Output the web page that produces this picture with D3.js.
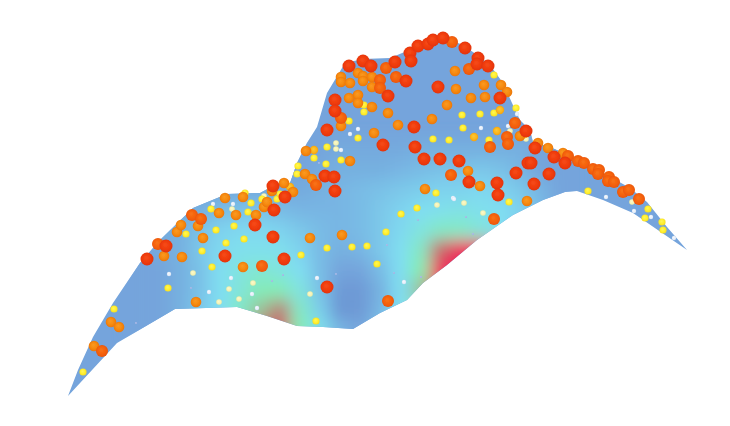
<!DOCTYPE html>
<html>
<head>
<meta charset="utf-8">
<script src="https://cdn.jsdelivr.net/npm/d3@7"></script>
<style>
	html, body { margin: 0; padding: 0; background: #fff; }
	svg { display: block; }
</style>
</head>
<body>
<div id="chart"></div>
<script>

// surface silhouette
let surfaceOutline = [
	[68,396],[78,370],[93,337],[113,303],[140,263],[160,240],[193,208],[227,194],[260,193],[273,186],
	[290,183],[297,163],[307,143],[317,127],[327,93],[345,63],[363,59],[390,58],[407,51],[423,42],
	[443,37],[463,45],[480,57],[490,65],[503,83],[512,103],[520,120],[530,130],[533,142],[550,147],
	[577,159],[607,175],[630,188],[647,202],[667,227],[687,250],[633,213],[603,200],[577,191],[565,192],
	[543,200],[513,215],[510,217],[477,240],[447,265],[423,283],[407,300],[380,313],[353,329],[323,327],
	[297,326],[267,316],[237,307],[175,309],[117,343]
];

// height colouring of the surface: 0 blue, 1 cyan, 2 green, 3 crimson
let heatColumns = [140,160,180,200,220,240,260,280,300,320,340,360,380,400,420,440,460,480,500,520,540,560];
let heatRows = [150,170,190,210,230,250,270,290,310,330];
let heatValues = [
	[0,0,0,0,0,0,0,0,0,0,.1,.1,.1,.1,.2,.2,.2,.2,.2,.2,0,0],
	[0,0,0,0,0,0,0,0,0,.1,.2,.2,.2,.3,.4,.5,.5,.6,.5,.3,0,0],
	[0,0,0,0,0,.1,.1,.1,.1,.2,.3,.4,.5,.6,.7,.8,.8,.9,.8,.6,.3,0],
	[0,0,.1,.2,.4,.5,.5,.4,.3,.3,.3,.4,.6,.8,1,1.1,1.2,1.1,1,.8,.4,0],
	[0,.1,.2,.5,.8,.9,.9,.8,.6,.4,.3,.4,.6,.9,1.3,1.7,1.7,1.4,1,.7,0,0],
	[0,.1,.2,.6,.9,1.1,1.1,1.1,.8,.4,.2,.3,.6,1,1.7,2.6,3.4,3.4,2.2,.6,0,0],
	[0,0,.2,.5,1,1.3,1.5,1.3,1,.4,0,0,.4,1,2,3.2,3.8,3.6,2.2,0,0,0],
	[0,0,.2,.5,1,1.4,1.9,1.9,1.3,.5,-.3,-.3,.2,1,2.2,3.2,3.4,3,1,0,0,0],
	[0,0,.2,.6,1,1.7,2.2,2.5,1.7,.7,-.4,-.3,.3,1,2,2.5,2,1,0,0,0,0],
	[0,0,.3,.7,1,1.7,2.6,2.8,2,1.1,.3,0,.5,1,1.5,1.5,1,0,0,0,0,0]
];

// spheres by class, smallest to largest
let tinyPoints = [
	[136,323],[191,288],[272,281],[283,275],[319,163],[466,217],[418,220],[387,245],[473,234],[336,274],[421,277],[394,273]
];
let whitePoints = [
	[169,274],[209,292],[231,278],[252,294],[257,308],[213,204],[233,204],[358,129],[350,134],[481,128],
	[508,126],[517,114],[341,150],[453,198],[454,199],[606,197],[634,211],[651,217],[674,238],[317,278],[404,282]
];
let palePoints = [
	[193,273],[229,289],[219,302],[239,299],[253,283],[232,209],[264,196],[336,143],[336,149],[510,131],
	[526,139],[437,205],[464,203],[483,213],[632,202],[310,294]
];
let yellowPoints = [
	[83,372],[114,309],[186,234],[216,230],[202,251],[226,243],[212,267],[168,288],[244,239],[234,226],
	[211,209],[248,212],[251,203],[245,193],[262,199],[277,199],[280,194],[364,105],[364,112],[349,121],
	[358,138],[462,115],[480,114],[494,113],[516,108],[494,75],[463,128],[489,140],[449,140],[433,139],
	[327,147],[314,158],[341,160],[326,164],[298,166],[297,174],[436,193],[509,202],[524,135],[588,191],
	[648,209],[645,218],[662,222],[663,230],[417,208],[401,214],[386,232],[327,248],[352,247],[367,246],
	[301,255],[377,264],[316,321]
];
let amberPoints = [
	[500,110],[314,150],[474,137],[497,131],[290,187]
];
let orangePoints = [
	[94,346],[111,322],[119,327],[164,256],[182,257],[177,232],[181,225],[198,226],[203,238],[196,302],
	[243,267],[236,215],[219,213],[256,215],[264,207],[267,202],[225,198],[243,197],[272,191],[284,183],
	[293,192],[455,71],[341,77],[341,82],[350,83],[358,73],[363,76],[363,81],[372,77],[372,87],[501,85],
	[507,92],[456,89],[484,85],[485,97],[471,98],[358,95],[349,98],[358,103],[372,107],[388,113],[447,105],
	[432,119],[341,126],[374,133],[398,125],[520,136],[306,151],[350,161],[305,174],[312,179],[468,171],
	[480,186],[425,189],[527,201],[538,143],[548,148],[563,153],[310,238],[342,235]
];
let deepOrangePoints = [
	[102,351],[158,244],[192,215],[201,219],[262,266],[386,68],[469,69],[380,80],[380,88],[396,77],
	[452,42],[341,118],[515,123],[507,137],[508,144],[490,147],[316,185],[451,175],[494,219],[568,156],
	[578,161],[584,163],[593,169],[599,170],[598,174],[609,177],[608,181],[614,182],[623,192],[629,190],
	[639,199],[388,301]
];
let redPoints = [
	[147,259],[166,246],[225,256],[284,259],[273,237],[255,225],[274,210],[285,197],[273,186],[349,66],
	[363,61],[371,66],[395,62],[410,53],[411,61],[418,46],[428,44],[433,40],[443,38],[465,48],[478,58],
	[477,64],[488,66],[406,81],[438,87],[500,98],[388,96],[335,100],[335,111],[327,130],[414,127],[526,131],
	[383,145],[415,147],[325,176],[334,177],[335,191],[424,159],[440,159],[459,161],[469,182],[497,183],
	[516,173],[528,163],[498,195],[535,148],[554,157],[565,163],[531,163],[549,174],[534,184],[327,287]
];

let pointClasses = [
	{ name: "tiny",       points: tinyPoints,       size: 1.1, light: "#b8c6ec", mid: "#a8b8e6", dark: "#98aadc" },
	{ name: "white",      points: whitePoints,      size: 2.2, light: "#f6f8fc", mid: "#e8f0fa", dark: "#d2e0f4" },
	{ name: "pale",       points: palePoints,       size: 2.8, light: "#fbf8cc", mid: "#f6f4b8", dark: "#e8e8a4" },
	{ name: "yellow",     points: yellowPoints,     size: 3.6, light: "#fff65c", mid: "#fff030", dark: "#f6d81e" },
	{ name: "amber",      points: amberPoints,      size: 4.2, light: "#fdc838", mid: "#fbb81c", dark: "#f09c12" },
	{ name: "orange",     points: orangePoints,     size: 5.3, light: "#fa9a22", mid: "#f68a10", dark: "#e87208" },
	{ name: "deepOrange", points: deepOrangePoints, size: 6,   light: "#f8741a", mid: "#f5620a", dark: "#e95206" },
	{ name: "red",        points: redPoints,        size: 6.5, light: "#f64c1a", mid: "#f03c0c", dark: "#e03206" }
];

function init() {
	draw();
};

function draw() {

	let canvasWidth = 730,
		canvasHeight = 426,
		heatStep = 20;

	let xScale = d3.scaleLinear()
		.domain([0, 730])
		.range([0, canvasWidth]);

	let yScale = d3.scaleLinear()
		.domain([0, 426])
		.range([0, canvasHeight]);

	let heatColor = d3.scaleLinear()
		.domain([-0.4, 0, 1, 2, 2.6, 3.2])
		.range(["#6c97d4", "#74a4dc", "#80def2", "#84eeb2", "#c46a6a", "#f0245c"])
		.clamp(true);

	let svg = d3.select("#chart")
		.append("svg")
			.attr("width", canvasWidth)
			.attr("height", canvasHeight);

	let defs = svg.append("defs");

	let outlinePath = d3.line()
		.x(function (d) { return xScale(d[0]); })
		.y(function (d) { return yScale(d[1]); })
		.curve(d3.curveLinearClosed);

	defs.append("clipPath")
		.attr("id", "surfaceClip")
		.append("path")
			.attr("d", outlinePath(surfaceOutline));

	defs.append("filter")
		.attr("id", "heatBlur")
		.attr("filterUnits", "userSpaceOnUse")
		.attr("x", 0)
		.attr("y", 0)
		.attr("width", canvasWidth)
		.attr("height", canvasHeight)
		.append("feGaussianBlur")
			.attr("stdDeviation", 8);

	defs.append("filter")
		.attr("id", "softEdge")
		.attr("filterUnits", "userSpaceOnUse")
		.attr("x", 0)
		.attr("y", 0)
		.attr("width", canvasWidth)
		.attr("height", canvasHeight)
		.append("feGaussianBlur")
			.attr("stdDeviation", 0.6);

	// one gradient per sphere class
	pointClasses.forEach(function (c) {
		let grad = defs.append("radialGradient")
			.attr("id", "ball-" + c.name)
			.attr("cx", "50%")
			.attr("cy", "50%")
			.attr("r", "55%")
			.attr("fx", "42%")
			.attr("fy", "38%");
		grad.append("stop").attr("offset", "0%").attr("stop-color", c.light);
		grad.append("stop").attr("offset", "55%").attr("stop-color", c.mid);
		grad.append("stop").attr("offset", "100%").attr("stop-color", c.dark);
	});

	let soft = svg.append("g")
		.attr("filter", "url(#softEdge)");

	// surface
	soft.append("path")
		.attr("d", outlinePath(surfaceOutline))
		.attr("fill", heatColor(0));

	let heatCells = [];
	heatValues.forEach(function (row, r) {
		row.forEach(function (v, c) {
			heatCells.push({ x: heatColumns[c], y: heatRows[r], v: v });
		});
	});

	soft.append("g")
		.attr("clip-path", "url(#surfaceClip)")
		.append("g")
			.attr("filter", "url(#heatBlur)")
			.selectAll("rect")
			.data(heatCells)
				.enter()
				.append("rect")
					.attr("x", function (d) { return xScale(d.x - heatStep / 2); })
					.attr("y", function (d) { return yScale(d.y - heatStep / 2); })
					.attr("width", xScale(heatStep) - xScale(0) + 0.5)
					.attr("height", yScale(heatStep) - yScale(0) + 0.5)
					.attr("fill", function (d) { return heatColor(d.v); });

	// spheres
	pointClasses.forEach(function (c) {
		soft.append("g")
			.selectAll("circle")
			.data(c.points)
				.enter()
				.append("circle")
					.attr("cx", function (d) { return xScale(d[0]); })
					.attr("cy", function (d) { return yScale(d[1]); })
					.attr("r", c.size)
					.attr("fill", "url(#ball-" + c.name + ")");
	});
};

init();

</script>
</body>
</html>
